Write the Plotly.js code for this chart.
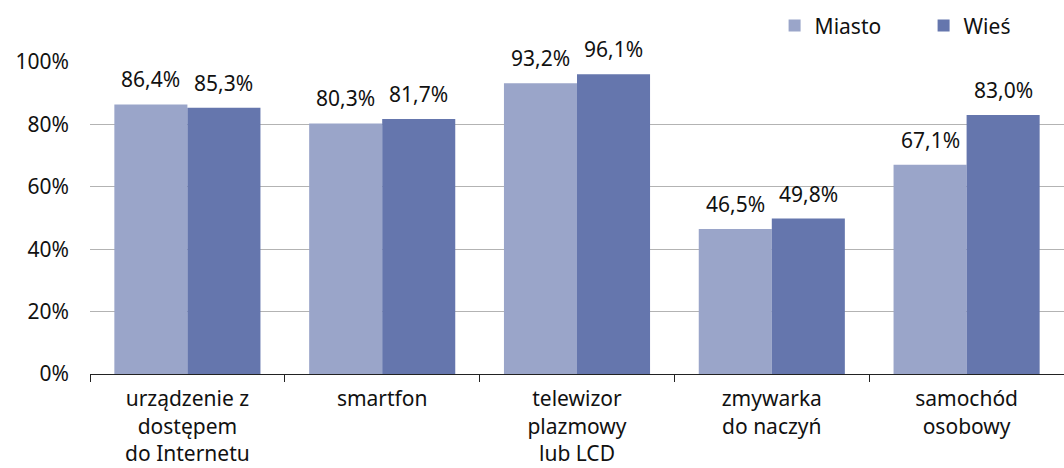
<!DOCTYPE html>
<html>
<head>
<meta charset="utf-8">
<script src="https://cdn.plot.ly/plotly-3.0.1.min.js"></script>
<style>html,body{margin:0;padding:0;background:#fff;}#chart{width:1064px;height:468px;}</style>
</head>
<body>
<div id="chart"></div>
<script>
const categories = ["urządzenie z<br>dostępem<br>do Internetu", "smartfon", "telewizor<br>plazmowy<br>lub LCD", "zmywarka<br>do naczyń", "samochód<br>osobowy"];
const miasto = [86.4, 80.3, 93.2, 46.5, 67.1];
const wies = [85.3, 81.7, 96.1, 49.8, 83.0];
const seriesNames = ["Miasto", "Wieś"];
const yTicks = [0, 20, 40, 60, 80, 100];
const yTickText = ["0%", "20%", "40%", "60%", "80%", "100%"];

const FONT = "Noto Sans, Open Sans, sans-serif";
const FS = 21;
const colors = ["#9AA5C9", "#6576AD"];
const fmt = v => v.toFixed(1).replace(".", ",") + "%";

const data = [miasto, wies].map((vals, i) => ({
  type: "bar",
  name: seriesNames[i],
  x: categories,
  y: vals,
  marker: {color: colors[i]},
  hoverinfo: "none"
}));

// value labels placed with the axes' own coordinates (category + value)
const annotations = [];
[miasto, wies].forEach((vals, i) => {
  vals.forEach((v, j) => {
    annotations.push({
      x: categories[j], y: v, xref: "x", yref: "y",
      text: fmt(v), showarrow: false,
      xanchor: "center", yanchor: "bottom",
      xshift: i === 0 ? -36.5 : 36.5, yshift: 9,
      font: {family: FONT, size: FS, color: "#111"}
    });
  });
});

const layout = {
  width: 1064, height: 468,
  margin: {l: 90, r: 0, t: 62, b: 94},
  paper_bgcolor: "#fff", plot_bgcolor: "#fff",
  font: {family: FONT, size: FS, color: "#111"},
  barmode: "group",
  bargap: 0.25,
  bargroupgap: 0,
  showlegend: true,
  legend: {orientation: "h", xref: "container", yref: "container",
           x: 0.728, xanchor: "left", y: 0.945, yanchor: "middle",
           entrywidth: 104, entrywidthmode: "pixels",
           font: {family: FONT, size: FS, color: "#111"}, itemwidth: 30, tracegroupgap: 0},
  annotations: annotations,
  xaxis: {
    showline: true, linecolor: "#222", linewidth: 1,
    ticks: "outside", tickson: "boundaries", ticklen: 7, tickcolor: "#222",
    tickfont: {family: FONT, size: FS, color: "#111"},
    ticklabelstandoff: 6,
    fixedrange: true
  },
  yaxis: {
    range: [0, 100], tickmode: "array", tickvals: yTicks, ticktext: yTickText,
    showgrid: true, gridcolor: "#b3b3b3", gridwidth: 1,
    zeroline: false, showline: false, ticks: "",
    tickfont: {family: FONT, size: FS, color: "#111"},
    ticklabelstandoff: 20,
    fixedrange: true
  }
};
Plotly.newPlot("chart", data, layout, {displayModeBar: false, staticPlot: true});
</script>
</body>
</html>
